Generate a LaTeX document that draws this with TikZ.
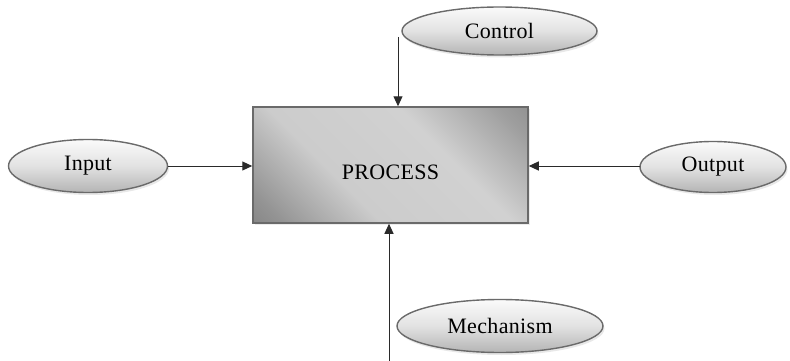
\documentclass[tikz,border=0pt]{standalone}
\usepackage{fontspec}
\setmainfont{Liberation Serif}[LetterSpace=1.5]
\usetikzlibrary{shapes.geometric,arrows.meta,shadows}
\definecolor{linec}{HTML}{2A2A2A}
\definecolor{bordc}{HTML}{6A6A6A}
\definecolor{elltop}{HTML}{FAFAFA}
\definecolor{ellmid}{HTML}{E2E2E2}
\definecolor{ellbot}{HTML}{B4B4B4}
\pgfdeclareverticalshading{procshade}{100bp}{%
  color(0bp)=(black!60);
  color(20bp)=(black!42);
  color(38bp)=(black!20);
  color(62bp)=(black!18);
  color(80bp)=(black!38);
  color(100bp)=(black!55)}
\tikzset{
  txt/.style={font=\fontsize{22}{26}\selectfont, text=black},
  oval/.style={ellipse, draw=bordc, line width=1.4pt, inner sep=0pt,
    top color=elltop, bottom color=ellbot, middle color=ellmid, txt,
    drop shadow={opacity=0.18, shadow xshift=1.5pt, shadow yshift=-2.5pt}},
  procbox/.style={rectangle, draw=bordc, line width=1.5pt, inner sep=0pt,
    shading=procshade, shading angle=-45, txt,
    drop shadow={opacity=0.15, shadow xshift=1.5pt, shadow yshift=-2pt}},
  conn/.style={draw=linec, line width=1pt, -{Triangle[length=10pt,width=9pt]}}
}
\begin{document}
\begin{tikzpicture}[x=1pt,y=-1pt]
\useasboundingbox (0,0) rectangle (790,361);
\node[procbox, minimum width=275pt, minimum height=116pt, text height=28pt, text depth=0pt] (proc) at (390.5,165) {PROCESS};
\node[oval, minimum width=195pt, minimum height=48pt] (ctrl) at (499.5,31) {Control};
\node[oval, minimum width=159pt, minimum height=53pt] (inp) at (88,166) {Input};
\node[oval, minimum width=146pt, minimum height=51pt] (outp) at (713,167) {Output};
\node[oval, minimum width=206pt, minimum height=53pt] (mech) at (500,326) {Mechanism};
\coordinate (ctop) at (398,37);
\coordinate (mbot) at (389,361);
\coordinate (oleft) at (640,166);
\draw[conn] (ctop) -- (ctop |- proc.north);
\draw[conn] (inp.east) -- (inp.east -| proc.west);
\draw[conn] (oleft) -- (oleft -| proc.east);
\draw[conn] (mbot) -- (mbot |- proc.south);
\end{tikzpicture}
\end{document}
